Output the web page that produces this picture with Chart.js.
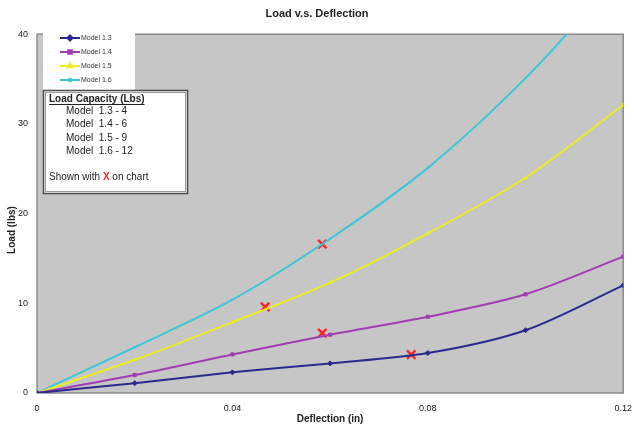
<!DOCTYPE html>
<html>
<head>
<meta charset="utf-8">
<script src="https://cdn.jsdelivr.net/npm/chart.js@4"></script>
<style>
  html, body { margin: 0; padding: 0; background: #fff; }
  #wrap { width: 634px; height: 430px; }
</style>
</head>
<body>
<div id="wrap"><canvas id="loadChart"></canvas></div>
<script>
// Deflection (in) sample points
const deflection = [0, 0.02, 0.04, 0.06, 0.08, 0.1, 0.12];

// Load (lbs) per model
const model13 = [0, 1.1, 2.3, 3.3, 4.45, 7.0, 12.0];
const model14 = [0, 2.0, 4.3, 6.5, 8.5, 11.0, 15.2];
const model15 = [0, 3.7, 7.9, 12.3, 17.8, 24.0, 32.1];
const model16 = [0, 5.1, 10.4, 17.2, 25.1, 35.1, 47.0];

// Rated capacity marks ("X" on chart)
const capacityX = [0.0766, 0.0584, 0.0467, 0.0584];
const capacityY = [4.27, 6.67, 9.6, 16.6];

const modelNames = ['Model 1.3', 'Model 1.4', 'Model 1.5', 'Model 1.6'];
const capacityLines = ['Model  1.3 - 4', 'Model  1.4 - 6', 'Model  1.5 - 9', 'Model  1.6 - 12'];

const xTicks = [0, 0.04, 0.08, 0.12];
const yTicks = [0, 10, 20, 30, 40];

const FONT = '"Liberation Sans", Arial, sans-serif';

function toPoints(ys) {
  return deflection.map((x, i) => ({ x: x, y: ys[i] }));
}

const styles = [
  { color: '#2b2b8e', point: 'rectRot', r: 2.5 },
  { color: '#a23cb2', point: 'rect', r: 2.2 },
  { color: '#ecec22', point: 'triangle', r: 2 },
  { color: '#3cc6d6', point: 'crossRot', r: 1.5 }
];

const series = [model13, model14, model15, model16];

const datasets = series.map((ys, i) => ({
  label: modelNames[i],
  data: toPoints(ys),
  borderColor: styles[i].color,
  backgroundColor: styles[i].color,
  borderWidth: 2,
  pointStyle: styles[i].point,
  pointRadius: styles[i].r,
  pointBorderWidth: 1,
  tension: 0.3,
  fill: false
}));

datasets.push({
  label: 'Capacity',
  data: capacityX.map((x, i) => ({ x: x, y: capacityY[i] })),
  showLine: false,
  pointStyle: 'crossRot',
  pointRadius: 6,
  pointBorderWidth: 2.5,
  borderColor: '#ff2626',
  backgroundColor: '#ff2626'
});

// plot background, frame, legend and notes box
const decor = {
  id: 'decor',
  beforeDatasetsDraw(chart) {
    const { ctx, chartArea: a } = chart;
    ctx.save();
    ctx.fillStyle = '#c6c6c6';
    ctx.fillRect(a.left, a.top, a.right - a.left, a.bottom - a.top);
    ctx.strokeStyle = '#8c8c8c';
    ctx.lineWidth = 1.5;
    ctx.strokeRect(a.left, a.top, a.right - a.left, a.bottom - a.top);
    ctx.restore();
  },
  afterDraw(chart) {
    const ctx = chart.ctx;
    ctx.save();

    // y axis title
    ctx.save();
    ctx.translate(12, 230);
    ctx.rotate(-Math.PI / 2);
    ctx.font = 'bold 10px ' + FONT;
    ctx.fillStyle = '#222';
    ctx.textAlign = 'center';
    ctx.textBaseline = 'middle';
    ctx.fillText('Load (lbs)', 0, 0);
    ctx.restore();

    // legend
    ctx.fillStyle = '#ffffff';
    ctx.fillRect(43, 33, 92, 57);
    ctx.font = '7px ' + FONT;
    ctx.textBaseline = 'middle';
    ctx.textAlign = 'left';
    modelNames.forEach((name, i) => {
      const y = 38 + i * 14;
      ctx.strokeStyle = styles[i].color;
      ctx.lineWidth = 2;
      ctx.beginPath();
      ctx.moveTo(60, y);
      ctx.lineTo(80, y);
      ctx.stroke();
      Chart.helpers.drawPoint(ctx, {
        pointStyle: styles[i].point,
        radius: 2.5,
        borderWidth: 1
      }, 70, y);
      ctx.fillStyle = styles[i].color;
      ctx.fill();
      ctx.fillStyle = '#333';
      ctx.fillText(name, 81, y + 0.5);
    });

    // notes box
    ctx.fillStyle = '#ffffff';
    ctx.fillRect(43, 90, 145, 104);
    ctx.strokeStyle = '#4a4a4a';
    ctx.lineWidth = 1.5;
    ctx.strokeRect(43.5, 90.5, 144, 103);
    ctx.strokeStyle = '#9a9a9a';
    ctx.lineWidth = 1;
    ctx.strokeRect(45.5, 92.5, 140, 99);

    ctx.fillStyle = '#222';
    ctx.font = 'bold 10px ' + FONT;
    const head = 'Load Capacity (Lbs)';
    ctx.fillText(head, 49, 99);
    const hw = ctx.measureText(head).width;
    ctx.fillRect(49, 104, hw, 1);

    ctx.font = '10px ' + FONT;
    capacityLines.forEach((t, i) => {
      ctx.fillText(t, 66, 111 + i * 13.5);
    });

    const s1 = 'Shown with ';
    ctx.fillText(s1, 49, 177);
    let x = 49 + ctx.measureText(s1).width;
    ctx.font = 'bold 10px ' + FONT;
    ctx.fillStyle = '#ff2020';
    ctx.fillText('X', x, 177);
    x += ctx.measureText('X').width;
    ctx.font = '10px ' + FONT;
    ctx.fillStyle = '#222';
    ctx.fillText(' on chart', x, 177);

    ctx.restore();
  }
};

new Chart(document.getElementById('loadChart'), {
  type: 'line',
  data: { datasets: datasets },
  plugins: [decor],
  options: {
    responsive: true,
    maintainAspectRatio: false,
    animation: false,
    layout: { padding: { top: 0, right: 0, bottom: 1, left: 0 } },
    plugins: {
      legend: { display: false },
      tooltip: { enabled: false },
      title: {
        display: true,
        text: 'Load v.s. Deflection',
        color: '#222',
        font: { family: FONT, size: 11, weight: 'bold' },
        padding: { top: 7, bottom: 14 }
      }
    },
    scales: {
      x: {
        type: 'linear',
        min: 0,
        max: 0.12,
        afterBuildTicks(scale) {
          scale.ticks = xTicks.map(v => ({ value: v }));
        },
        afterFit(scale) { scale.height = 36; },
        grid: { display: false, drawTicks: true, tickLength: 8 },
        border: { display: false },
        ticks: {
          color: '#222',
          padding: 2,
          maxRotation: 0,
          font: { family: FONT, size: 9 },
          callback: v => String(v)
        },
        title: {
          display: true,
          text: 'Deflection (in)',
          color: '#222',
          font: { family: FONT, size: 10, weight: 'bold' },
          padding: { top: 0, bottom: 4 }
        }
      },
      y: {
        min: 0,
        max: 40,
        afterBuildTicks(scale) {
          scale.ticks = yTicks.map(v => ({ value: v }));
        },
        afterFit(scale) { scale.width = 37; },
        grid: { display: false, drawTicks: false },
        border: { display: false },
        ticks: {
          color: '#222',
          padding: 9,
          font: { family: FONT, size: 9 }
        }
      }
    }
  }
});
</script>
</body>
</html>
